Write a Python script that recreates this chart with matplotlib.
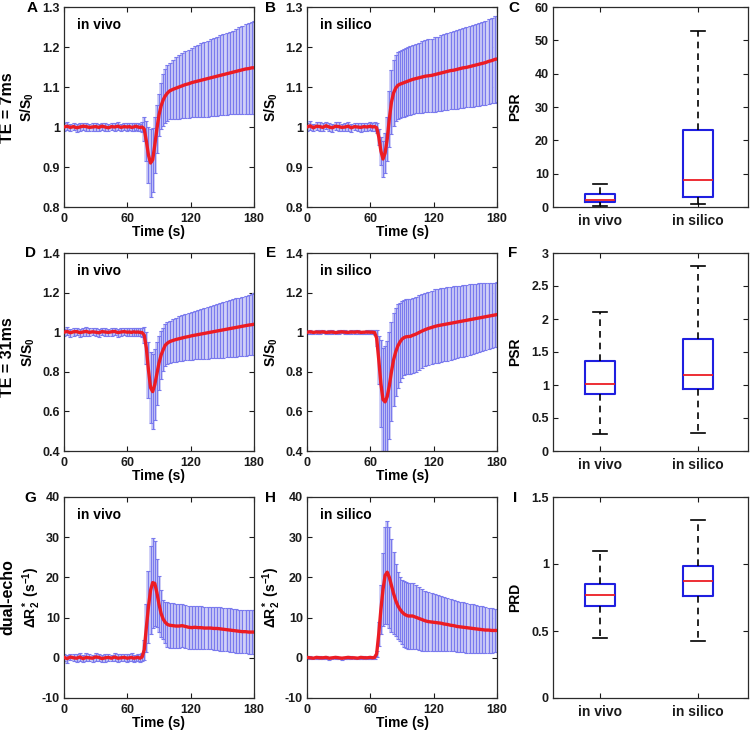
import matplotlib
matplotlib.use('Agg')
import matplotlib.pyplot as plt
from matplotlib.ticker import FormatStrFormatter

plt.rcParams.update({
    'font.family': ['Liberation Sans', 'DejaVu Sans'],
    'font.weight': 'bold',
    'axes.labelweight': 'bold',
    'font.size': 10,
    'mathtext.fontset': 'custom',
    'mathtext.rm': 'Liberation Sans:bold',
    'mathtext.it': 'Liberation Sans:bold',
    'mathtext.bf': 'Liberation Sans:bold',
    'mathtext.default': 'rm',
    'axes.edgecolor': '#2b2b2b',
    'axes.linewidth': 0.9,
})

# ---------------- data ----------------
time_s = [0, 3, 6, 9, 12, 15, 18, 21, 24, 27, 30, 33, 36, 39, 42, 45, 48, 51, 54, 57, 60,
          62, 64, 66, 68, 70, 72, 74, 76, 78, 80, 82, 84, 86, 88, 90, 92, 94, 96, 98, 100,
          103, 106, 109, 112, 115, 118, 121, 124, 127, 130, 133, 136, 139, 142, 145, 148,
          151, 154, 157, 160, 163, 166, 169, 172, 175, 178, 180]

# A: TE = 7 ms, in vivo
te7_vivo_mean = [1.000, 1.002, 0.999, 1.001, 0.998, 1.000, 1.002, 1.001, 0.999, 1.000, 1.001, 0.999, 1.002, 1.000, 0.998, 1.001, 1.000, 1.002, 0.999, 1.001, 1.000,
                 1.001, 0.999, 1.000, 1.002, 1.000, 0.999, 1.000, 0.995, 0.965, 0.930, 0.910, 0.918, 0.955, 0.995, 1.030, 1.053, 1.068, 1.078, 1.085, 1.090,
                 1.094, 1.097, 1.100, 1.103, 1.106, 1.108, 1.111, 1.113, 1.115, 1.117, 1.119, 1.121, 1.123, 1.125, 1.127, 1.129, 1.131, 1.133, 1.135, 1.137, 1.139, 1.141, 1.143, 1.145, 1.146, 1.148, 1.148]
te7_vivo_sd = [0.009, 0.010, 0.009, 0.008, 0.010, 0.009, 0.009, 0.010, 0.008, 0.009, 0.010, 0.009, 0.009, 0.010, 0.009, 0.008, 0.009, 0.010, 0.009, 0.009, 0.010,
               0.009, 0.010, 0.009, 0.009, 0.010, 0.009, 0.012, 0.030, 0.050, 0.070, 0.085, 0.080, 0.070, 0.060, 0.052, 0.058, 0.065, 0.067, 0.069, 0.071,
               0.074, 0.077, 0.079, 0.081, 0.083, 0.085, 0.087, 0.089, 0.090, 0.092, 0.093, 0.095, 0.096, 0.097, 0.099, 0.100, 0.101, 0.102, 0.103, 0.104, 0.106, 0.108, 0.110, 0.112, 0.114, 0.115, 0.116]

# B: TE = 7 ms, in silico
te7_silico_mean = [1.000, 1.003, 0.998, 1.002, 1.001, 0.999, 1.003, 1.000, 0.998, 1.002, 1.001, 0.999, 1.000, 1.002, 0.998, 1.001, 1.000, 0.999, 1.001, 1.000, 1.002,
                   1.000, 1.001, 0.998, 0.975, 0.940, 0.920, 0.935, 0.970, 1.020, 1.062, 1.085, 1.097, 1.104, 1.107, 1.109, 1.111, 1.113, 1.115, 1.117, 1.119,
                   1.121, 1.123, 1.125, 1.127, 1.128, 1.129, 1.131, 1.133, 1.135, 1.137, 1.139, 1.141, 1.142, 1.144, 1.146, 1.148, 1.149, 1.151, 1.153, 1.155, 1.157, 1.159, 1.161, 1.164, 1.166, 1.169, 1.170]
te7_silico_sd = [0.010, 0.011, 0.009, 0.010, 0.012, 0.010, 0.009, 0.011, 0.010, 0.010, 0.012, 0.009, 0.010, 0.011, 0.010, 0.009, 0.010, 0.012, 0.010, 0.011, 0.010,
                 0.010, 0.011, 0.012, 0.020, 0.035, 0.045, 0.050, 0.055, 0.070, 0.080, 0.082, 0.083, 0.084, 0.084, 0.084, 0.085, 0.085, 0.086, 0.086, 0.087,
                 0.087, 0.088, 0.089, 0.090, 0.091, 0.092, 0.093, 0.093, 0.094, 0.095, 0.096, 0.096, 0.097, 0.098, 0.099, 0.100, 0.100, 0.101, 0.102, 0.103, 0.104, 0.104, 0.105, 0.106, 0.107, 0.108, 0.108]

# D: TE = 31 ms, in vivo
te31_vivo_mean = [1.000, 1.004, 0.997, 1.002, 1.003, 0.998, 1.001, 1.004, 0.999, 1.002, 1.000, 0.997, 1.003, 1.001, 0.999, 1.002, 1.004, 0.998, 1.001, 1.003, 1.000,
                  1.001, 0.999, 1.002, 1.000, 1.001, 0.999, 0.998, 0.985, 0.920, 0.810, 0.720, 0.700, 0.735, 0.790, 0.845, 0.885, 0.912, 0.935, 0.945, 0.952,
                  0.958, 0.963, 0.967, 0.971, 0.975, 0.978, 0.982, 0.985, 0.988, 0.991, 0.994, 0.997, 1.000, 1.003, 1.006, 1.009, 1.012, 1.015, 1.018, 1.021, 1.024, 1.027, 1.030, 1.033, 1.036, 1.038, 1.040]
te31_vivo_sd = [0.018, 0.020, 0.019, 0.021, 0.018, 0.020, 0.019, 0.021, 0.020, 0.018, 0.020, 0.021, 0.019, 0.020, 0.018, 0.021, 0.019, 0.020, 0.021, 0.019, 0.020,
                0.019, 0.020, 0.021, 0.019, 0.020, 0.020, 0.022, 0.040, 0.080, 0.140, 0.180, 0.190, 0.180, 0.160, 0.135, 0.120, 0.110, 0.105, 0.105, 0.107,
                0.109, 0.111, 0.113, 0.115, 0.117, 0.119, 0.121, 0.122, 0.124, 0.126, 0.128, 0.130, 0.132, 0.134, 0.136, 0.138, 0.140, 0.142, 0.143, 0.145, 0.147, 0.148, 0.150, 0.152, 0.153, 0.155, 0.156]

# E: TE = 31 ms, in silico
te31_silico_mean = [1.000, 1.002, 0.999, 1.001, 1.000, 1.002, 0.999, 1.000, 1.001, 0.998, 1.000, 1.002, 1.000, 0.999, 1.001, 1.000, 1.002, 0.999, 1.000, 1.001, 1.000,
                    1.000, 0.998, 0.970, 0.860, 0.740, 0.660, 0.648, 0.675, 0.730, 0.800, 0.860, 0.900, 0.930, 0.950, 0.965, 0.973, 0.977, 0.978, 0.979, 0.984,
                    0.990, 0.998, 1.006, 1.013, 1.019, 1.024, 1.029, 1.033, 1.036, 1.039, 1.042, 1.045, 1.048, 1.051, 1.054, 1.057, 1.060, 1.063, 1.066, 1.069, 1.072, 1.075, 1.078, 1.081, 1.084, 1.087, 1.089]
te31_silico_sd = [0.008, 0.009, 0.008, 0.010, 0.009, 0.008, 0.009, 0.010, 0.008, 0.009, 0.009, 0.008, 0.010, 0.009, 0.008, 0.009, 0.010, 0.009, 0.008, 0.009, 0.010,
                  0.010, 0.012, 0.040, 0.120, 0.220, 0.260, 0.280, 0.280, 0.270, 0.250, 0.235, 0.220, 0.210, 0.200, 0.195, 0.190, 0.190, 0.190, 0.190, 0.190,
                  0.189, 0.188, 0.187, 0.186, 0.186, 0.186, 0.187, 0.187, 0.187, 0.186, 0.185, 0.184, 0.183, 0.182, 0.181, 0.180, 0.179, 0.178, 0.177, 0.176, 0.174, 0.172, 0.170, 0.168, 0.166, 0.164, 0.163]

# G: dual-echo, in vivo (Delta R2*)
dual_vivo_mean = [0.1, -0.2, 0.2, 0.0, -0.1, 0.2, -0.2, 0.1, 0.0, -0.1, 0.2, 0.1, -0.2, 0.0, 0.1, -0.1, 0.2, -0.1, 0.0, 0.1, -0.1,
                  0.0, 0.1, -0.1, 0.0, 0.1, -0.1, 0.2, 2.0, 7.5, 12.7, 16.8, 18.7, 18.5, 16.2, 13.3, 11.0, 9.6, 8.8, 8.3, 8.1,
                  8.0, 7.9, 7.9, 8.0, 7.8, 7.6, 7.5, 7.6, 7.5, 7.5, 7.4, 7.4, 7.4, 7.3, 7.3, 7.2, 7.1, 7.0, 6.9, 6.8, 6.7, 6.6, 6.5, 6.5, 6.4, 6.4, 6.4]
dual_vivo_sd = [0.9, 1.0, 0.8, 0.9, 1.0, 0.9, 0.8, 1.0, 0.9, 0.9, 1.0, 0.8, 0.9, 1.0, 0.9, 0.8, 0.9, 1.0, 0.9, 0.9, 1.0,
                0.9, 1.0, 0.9, 0.8, 0.9, 1.0, 1.1, 2.5, 6.0, 9.0, 11.0, 11.2, 10.5, 8.5, 7.0, 5.8, 4.8, 5.2, 5.5, 5.6,
                5.6, 5.5, 5.5, 5.4, 5.4, 5.4, 5.4, 5.3, 5.3, 5.3, 5.3, 5.3, 5.3, 5.3, 5.3, 5.4, 5.4, 5.4, 5.4, 5.4, 5.4, 5.4, 5.4, 5.4, 5.5, 5.5, 5.5]

# H: dual-echo, in silico
dual_silico_mean = [0.1, 0.0, -0.1, 0.1, 0.0, 0.0, 0.1, -0.1, 0.0, 0.1, 0.0, -0.1, 0.0, 0.1, 0.0, 0.0, -0.1, 0.1, 0.0, 0.0, 0.1,
                    0.0, 0.1, 1.0, 6.0, 12.0, 17.0, 20.5, 21.3, 20.0, 18.0, 16.0, 14.3, 13.0, 12.1, 11.4, 10.9, 10.6, 10.4, 10.4, 10.4,
                    10.1, 9.8, 9.5, 9.2, 9.0, 8.9, 8.8, 8.7, 8.6, 8.4, 8.3, 8.1, 8.0, 7.8, 7.7, 7.6, 7.5, 7.4, 7.3, 7.2, 7.1, 7.0, 6.9, 6.9, 6.8, 6.8, 6.8]
dual_silico_sd = [0.3, 0.4, 0.3, 0.3, 0.4, 0.3, 0.3, 0.4, 0.3, 0.3, 0.3, 0.4, 0.3, 0.3, 0.4, 0.3, 0.3, 0.3, 0.4, 0.3, 0.3,
                  0.3, 0.4, 0.8, 3.0, 6.0, 9.0, 12.0, 12.8, 12.5, 11.5, 10.2, 9.0, 8.3, 7.9, 8.0, 8.2, 8.2, 8.2, 8.1, 8.1,
                  8.0, 7.9, 7.7, 7.5, 7.3, 7.1, 7.0, 6.9, 6.8, 6.7, 6.6, 6.5, 6.4, 6.4, 6.3, 6.2, 6.2, 6.1, 6.0, 6.0, 5.9, 5.8, 5.7, 5.6, 5.5, 5.4, 5.35]

# Box plots: [whisker low, Q1, median, Q3, whisker high]
groups = ['in vivo', 'in silico']
psr_te7_vivo = [0.3, 1.4, 2.0, 3.8, 7.0]
psr_te7_silico = [1.0, 3.0, 8.2, 23.0, 52.8]
psr_te31_vivo = [0.26, 0.865, 1.015, 1.36, 2.1]
psr_te31_silico = [0.28, 0.935, 1.155, 1.69, 2.8]
prd_vivo = [0.449, 0.683, 0.77, 0.85, 1.10]
prd_silico = [0.424, 0.758, 0.873, 0.985, 1.327]

# ---------------- styling ----------------
BAR_FILL = '#c6c6f6'
BAR_LINE = '#7a7aee'
CAP = '#3a3ad6'
RED = '#ec1c24'
BLUE = '#1f1fe0'

W, H = 750.0, 732.0


def axes_px(left, top, right, bottom):
    return [left / W, 1 - bottom / H, (right - left) / W, (bottom - top) / H]


fig = plt.figure(figsize=(7.5, 7.32), dpi=100)

rows = [(7, 207), (253, 451), (497, 698)]
cols = [(64, 254), (307, 497), (553, 748)]


def style(ax):
    ax.tick_params(direction='in', top=True, right=True, length=3.5, width=0.8,
                   labelsize=9, colors='#1a1a1a')
    ax.tick_params(axis='y', pad=3)
    ax.tick_params(axis='x', pad=4)
    for lab in ax.get_xticklabels() + ax.get_yticklabels():
        lab.set_fontweight('bold')


def ts_panel(ax, mean, sd, ylim, yticks, ylabel, label, ylab_x):
    # wide pale bars (give the shaded look) + thin darker bars with caps
    ax.errorbar(time_s, mean, yerr=sd, fmt='none', ecolor=BAR_FILL,
                elinewidth=2.6, capsize=0)
    eb = ax.errorbar(time_s, mean, yerr=sd, fmt='none', ecolor=BAR_LINE,
                     elinewidth=0.8, capsize=1.6, capthick=0.8)
    for c in eb[1]:
        c.set_color(CAP)
    ax.plot(time_s, mean, color=RED, lw=2.4, zorder=3)
    ax.set_xlim(0, 180)
    ax.set_ylim(*ylim)
    ax.set_xticks([0, 60, 120, 180])
    ax.set_yticks(yticks)
    ax.yaxis.set_major_formatter(FormatStrFormatter('%g'))
    ax.set_xlabel('Time (s)', fontsize=10, labelpad=0)
    ax.set_ylabel(ylabel, fontsize=10)
    ax.yaxis.set_label_coords(ylab_x, 0.5)
    ax.text(0.068, 0.91, label, transform=ax.transAxes, fontsize=10,
            fontweight='bold', va='center', ha='left')
    style(ax)


def box_panel(ax, v1, v2, ylim, yticks, ylabel):
    stats = []
    for v, name in zip([v1, v2], groups):
        stats.append(dict(whislo=v[0], q1=v[1], med=v[2], q3=v[3], whishi=v[4],
                          fliers=[], label=name))
    ax.bxp(stats, positions=[1, 2], widths=0.3, showfliers=False,
           boxprops=dict(color=BLUE, lw=1.5),
           medianprops=dict(color=RED, lw=1.3),
           whiskerprops=dict(color='k', lw=1.2, linestyle=(0, (4, 3))),
           capprops=dict(color='k', lw=1.2))
    ax.set_xlim(0.52, 2.51)
    ax.set_ylim(*ylim)
    ax.set_yticks(yticks)
    ax.yaxis.set_major_formatter(FormatStrFormatter('%g'))
    ax.set_ylabel(ylabel, fontsize=10)
    ax.yaxis.set_label_coords(-0.16, 0.5)
    style(ax)
    ax.tick_params(axis='x', labelsize=10, pad=5)


# Row 1
r = rows[0]
axA = fig.add_axes(axes_px(cols[0][0], r[0], cols[0][1], r[1]))
ts_panel(axA, te7_vivo_mean, te7_vivo_sd, (0.8, 1.3), [0.8, 0.9, 1.0, 1.1, 1.2, 1.3], 'S/S$_0$', 'in vivo', -0.15)
axB = fig.add_axes(axes_px(cols[1][0], r[0], cols[1][1], r[1]))
ts_panel(axB, te7_silico_mean, te7_silico_sd, (0.8, 1.3), [0.8, 0.9, 1.0, 1.1, 1.2, 1.3], 'S/S$_0$', 'in silico', -0.14)
axC = fig.add_axes(axes_px(cols[2][0], r[0], cols[2][1], r[1]))
box_panel(axC, psr_te7_vivo, psr_te7_silico, (0, 60), [0, 10, 20, 30, 40, 50, 60], 'PSR')

# Row 2
r = rows[1]
axD = fig.add_axes(axes_px(cols[0][0], r[0], cols[0][1], r[1]))
ts_panel(axD, te31_vivo_mean, te31_vivo_sd, (0.4, 1.4), [0.4, 0.6, 0.8, 1.0, 1.2, 1.4], 'S/S$_0$', 'in vivo', -0.14)
axE = fig.add_axes(axes_px(cols[1][0], r[0], cols[1][1], r[1]))
ts_panel(axE, te31_silico_mean, te31_silico_sd, (0.4, 1.4), [0.4, 0.6, 0.8, 1.0, 1.2, 1.4], 'S/S$_0$', 'in silico', -0.14)
axF = fig.add_axes(axes_px(cols[2][0], r[0], cols[2][1], r[1]))
box_panel(axF, psr_te31_vivo, psr_te31_silico, (0, 3), [0, 0.5, 1, 1.5, 2, 2.5, 3], 'PSR')

# Row 3
r = rows[2]
dr_label = r'$\Delta$R$_2^*$ (s$^{-1}$)'
axG = fig.add_axes(axes_px(cols[0][0], r[0], cols[0][1], r[1]))
ts_panel(axG, dual_vivo_mean, dual_vivo_sd, (-10, 40), [-10, 0, 10, 20, 30, 40], dr_label, 'in vivo', -0.11)
axH = fig.add_axes(axes_px(cols[1][0], r[0], cols[1][1], r[1]))
ts_panel(axH, dual_silico_mean, dual_silico_sd, (-10, 40), [-10, 0, 10, 20, 30, 40], dr_label, 'in silico', -0.125)
axI = fig.add_axes(axes_px(cols[2][0], r[0], cols[2][1], r[1]))
box_panel(axI, prd_vivo, prd_silico, (0, 1.5), [0, 0.5, 1, 1.5], 'PRD')

# Panel letters
letters = [('A', 32, 7.5), ('B', 270, 7.5), ('C', 514, 7.5),
           ('D', 30, 253), ('E', 271, 253), ('F', 513, 253),
           ('G', 30, 497.5), ('H', 270, 497.5), ('I', 515, 497.5)]
for s, x, y in letters:
    fig.text(x / W, 1 - y / H, s, fontsize=11, fontweight='bold', ha='center', va='center')

# Row labels
for s, y in [('TE = 7ms', 108), ('TE = 31ms', 357), ('dual-echo', 597)]:
    fig.text(8 / W, 1 - y / H, s, rotation=90, fontsize=11.5, fontweight='bold',
             ha='center', va='center')

fig.savefig('out.png', dpi=100)
